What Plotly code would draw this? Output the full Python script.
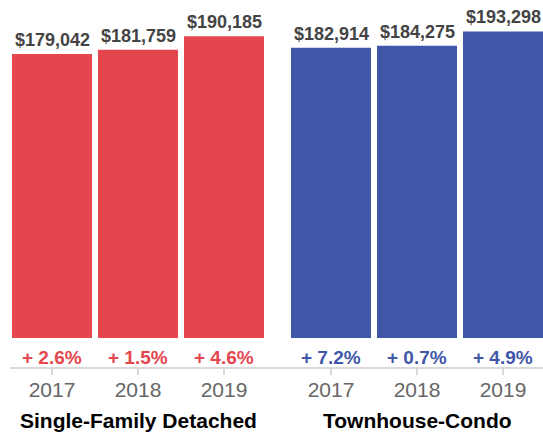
import plotly.graph_objects as go
from plotly.subplots import make_subplots

# Dados
anos = ["2017", "2018", "2019"]
unifamiliar = [179042, 181759, 190185]
condo = [182914, 184275, 193298]
var_unifamiliar = ["+ 2.6%", "+ 1.5%", "+ 4.6%"]
var_condo = ["+ 7.2%", "+ 0.7%", "+ 4.9%"]
titulos = ["Single-Family Detached", "Townhouse-Condo"]

vermelho = "#E5464E"
azul = "#3F57A8"
fonte = "Liberation Sans, Arial, sans-serif"

# figura um pouco mais larga que a janela: a última barra encosta na borda
L, A = 546, 435
base = 368  # linha do eixo, px a partir do topo

fig = make_subplots(rows = 1, cols = 2, shared_yaxes = True)

grupos = [
    (unifamiliar, var_unifamiliar, vermelho, 1),
    (condo, var_condo, azul, 2),
]

for valores, variacao, cor, col in grupos:
    fig.add_trace(
        go.Bar(
            x = anos,
            y = valores,
            marker_color = cor,
            marker_line_width = 0,
            showlegend = False,
            hoverinfo = "skip"
            ),
        row = 1,
        col = col
        )
    eixo = "x" if col == 1 else "x2"
    # posição da categoria pelo índice
    for i, (v, p) in enumerate(zip(valores, variacao)):
        fig.add_annotation(
            x = i, y = v, xref = eixo, yref = "y",
            text = f"<b>${v:,}</b>",
            showarrow = False, yanchor = "bottom", yshift = 2,
            font = dict(family = fonte, size = 18, color = "#444444")
            )
        fig.add_annotation(
            x = i, y = -12000, xref = eixo, yref = "y",
            text = f"<b>{p}</b>",
            showarrow = False, yanchor = "middle",
            font = dict(family = fonte, size = 19, color = cor)
            )

for k, titulo in enumerate(titulos):
    fig.add_annotation(
        x = 0.5, y = -52 / base, xref = "x domain" if k == 0 else "x2 domain", yref = "paper",
        text = f"<b>{titulo}</b>", showarrow = False, yanchor = "middle",
        font = dict(family = fonte, size = 21, color = "#000000")
        )

# linha do eixo contínua
fig.add_shape(
    type = "line", xref = "paper", yref = "paper",
    x0 = 10 / L, x1 = 1, y0 = 0, y1 = 0,
    line = dict(color = "#D9D9D9", width = 2)
    )

eixo_x = dict(
    type = "category",
    range = [-0.5, 2.5],
    showgrid = False,
    showline = False,
    zeroline = False,
    ticks = "outside",
    ticklen = 6,
    tickwidth = 2,
    tickcolor = "#D9D9D9",
    ticklabelstandoff = -3,
    tickfont = dict(family = fonte, size = 21, color = "#666666"),
    fixedrange = True
    )

fig.update_xaxes(eixo_x)
fig.update_xaxes(domain = [9 / L, 267 / L], row = 1, col = 1)
fig.update_xaxes(domain = [288 / L, 1.0], row = 1, col = 2)
fig.update_yaxes(
    range = [-18913, 213087],
    visible = False,
    showgrid = False,
    zeroline = False,
    fixedrange = True
    )

fig.update_layout(
    width = L,
    height = A,
    margin = dict(l = 0, r = 0, t = 0, b = A - base),
    bargap = 0.07,
    plot_bgcolor = "white",
    paper_bgcolor = "white",
    font = dict(family = fonte)
    )

fig.write_html(
    "out.html",
    config = dict(displayModeBar = False),
    post_script = "document.body.style.margin = '0px'; document.body.style.overflow = 'hidden';"
    )
